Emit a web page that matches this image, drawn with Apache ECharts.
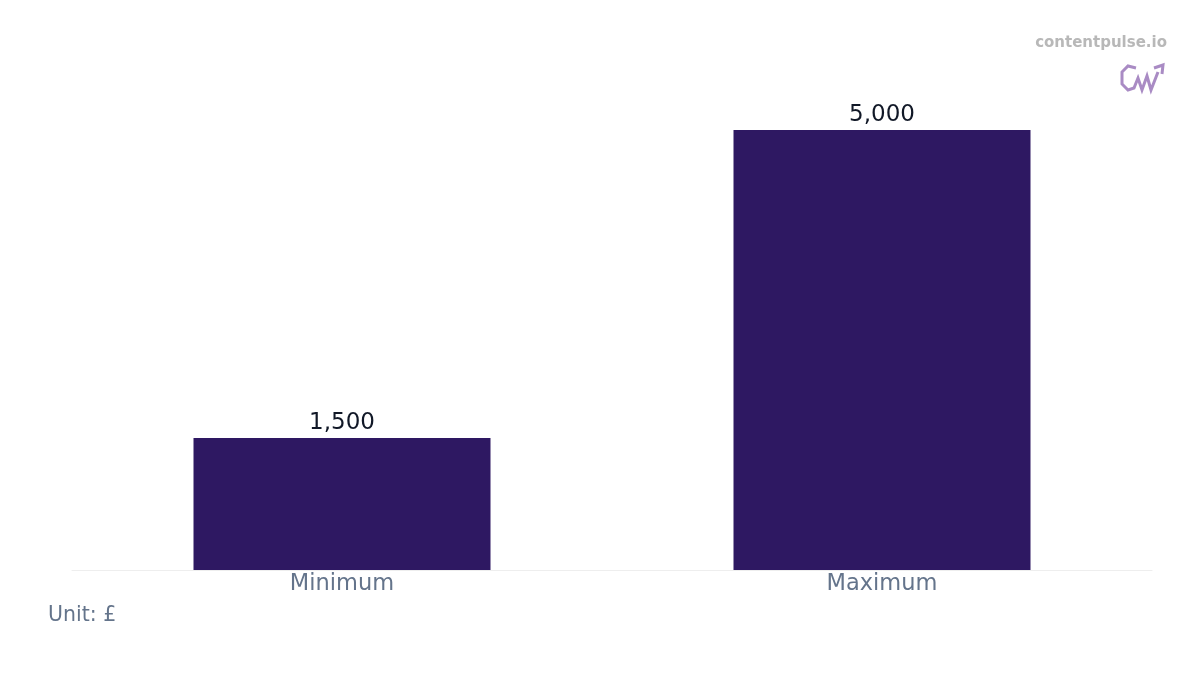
<!DOCTYPE html>
<html><head><meta charset="utf-8">
<script src="https://cdn.jsdelivr.net/npm/echarts@6/dist/echarts.min.js"></script>
<style>html,body{margin:0;padding:0;background:#fff}#c{width:1200px;height:675px}</style>
</head><body><div id="c"></div>
<script>
const categories = ['Minimum', 'Maximum'];
const values = [1500, 5000];
const chart = echarts.init(document.getElementById('c'));
chart.setOption({
  animation: false,
  grid: {left: 72, right: 48, top: 86, bottom: 105},
  xAxis: {type: 'category', data: categories,
    axisLine: {lineStyle: {color: '#eeeeee'}}, axisTick: {show: false},
    axisLabel: {color: '#64748b', fontSize: 22.5, fontFamily: 'DejaVu Sans', margin: 3}},
  yAxis: {type: 'value', min: 0, max: 5500, show: false, splitLine: {show: false}},
  series: [{type: 'bar', data: values, barWidth: '55%',
    itemStyle: {color: '#2e1862'},
    label: {show: true, position: 'top', color: '#111827', fontSize: 23, fontFamily: 'DejaVu Sans', distance: 3,
      formatter: p => p.value.toLocaleString('en-US')}}],
  graphic: [
    {type: 'text', right: 33, top: 36, style: {text: 'contentpulse.io', fill: '#b8b8b8', font: 'bold 15px DejaVu Sans'}},
    {type: 'polyline', shape: {points: [[1136,68],[1128,66],[1122,72],[1122,84],[1128,90],[1134,88],[1138,78],[1142,90],[1147,76],[1151,90],[1158,72]]},
      style: {stroke: '#a98bc4', lineWidth: 3, fill: null}},
    {type: 'polyline', shape: {points: [[1154,68],[1163,65],[1162,74]]}, style: {stroke: '#a98bc4', lineWidth: 3, fill: null}},
    {type: 'text', left: 48, top: 605, style: {text: 'Unit: £', fill: '#64748b', font: '20.5px DejaVu Sans'}}
  ]
});
</script></body></html>
